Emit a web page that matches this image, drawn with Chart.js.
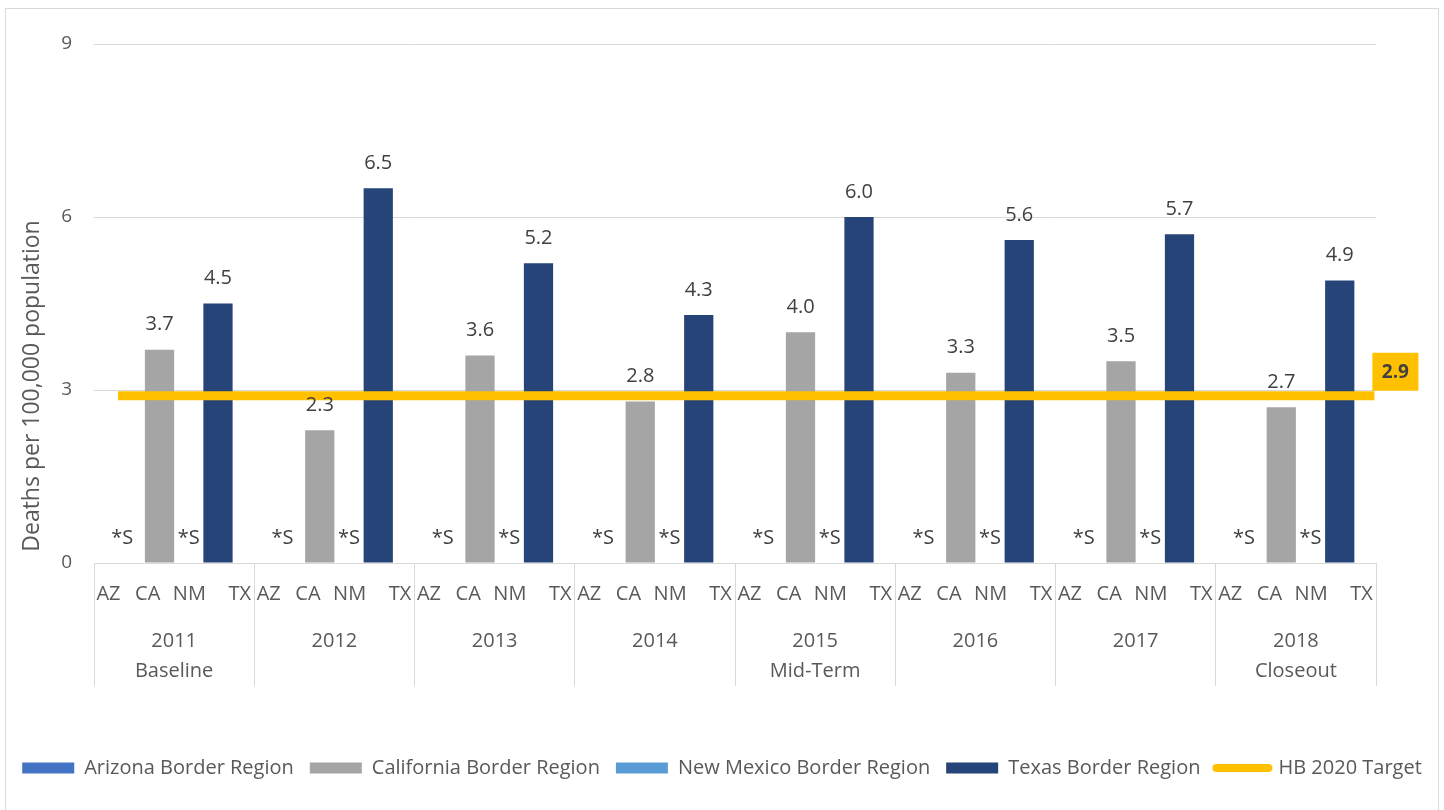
<!DOCTYPE html>
<html>
<head>
<meta charset="utf-8">
<script src="https://cdn.jsdelivr.net/npm/chart.js@4.4.1/dist/chart.umd.min.js"></script>
<style>
  html, body { margin: 0; padding: 0; background: #ffffff; }
  #wrap { width: 1444px; height: 810px; }
</style>
</head>
<body>
<div id="wrap"><canvas id="chart" width="1444" height="810"></canvas></div>
<script>
// ===== chart data =====
const years = ['2011', '2012', '2013', '2014', '2015', '2016', '2017', '2018'];
const milestones = ['Baseline', '', '', '', 'Mid-Term', '', '', 'Closeout'];
const states = ['AZ', 'CA', 'NM', 'TX'];

const azRates = [0, 0, 0, 0, 0, 0, 0, 0];
const caRates = [3.7, 2.3, 3.6, 2.8, 4.0, 3.3, 3.5, 2.7];
const nmRates = [0, 0, 0, 0, 0, 0, 0, 0];
const txRates = [4.5, 6.5, 5.2, 4.3, 6.0, 5.6, 5.7, 4.9];

// suppressed counts are shown as "*S"
const azSuppressed = [true, true, true, true, true, true, true, true];
const caSuppressed = [false, false, false, false, false, false, false, false];
const nmSuppressed = [true, true, true, true, true, true, true, true];
const txSuppressed = [false, false, false, false, false, false, false, false];

const targetRate = 2.9;
const targetSpan = [-0.35, 7.49];   // in year-index units
const yTicks = [0, 3, 6, 9];
const yTitle = 'Deaths per 100,000 population';

const TEXT = '#595959';
const GRID = '#d9d9d9';
Chart.defaults.font.family = "'Open Sans', 'DejaVu Sans', sans-serif";

// bars sit on a linear x axis: one unit per year, index i
const toPoints = arr => arr.map((v, i) => ({ x: i, y: v }));

/**
 * Frame, white background, y title
 */
const framePlugin = {
  id: 'frame',
  beforeDraw(chart) {
    const ctx = chart.ctx;
    ctx.save();
    ctx.fillStyle = '#ffffff';
    ctx.fillRect(0, 0, chart.width, chart.height);
    ctx.strokeStyle = GRID;
    ctx.lineWidth = 1;
    ctx.strokeRect(5.5, 8.5, 1433, 810);
    // y axis title
    ctx.translate(32, 386);
    ctx.rotate(-Math.PI / 2);
    ctx.fillStyle = TEXT;
    ctx.font = "23px 'Open Sans', sans-serif";
    ctx.textAlign = 'center';
    ctx.textBaseline = 'middle';
    ctx.fillText(yTitle, 0, 0);
    ctx.restore();
  }
};

/**
 * Value labels over bars + the target tag
 */
const labelPlugin = {
  id: 'barLabels',
  afterDatasetsDraw(chart) {
    const ctx = chart.ctx;
    ctx.save();
    ctx.textAlign = 'center';
    ctx.textBaseline = 'middle';
    chart.data.datasets.forEach((ds, di) => {
      const meta = chart.getDatasetMeta(di);
      if (ds.type === 'line') {
        const last = meta.data[meta.data.length - 1];
        if (!last) return;
        const bx = last.x - 2, by = last.y - 43, bw = 46, bh = 38;
        ctx.fillStyle = '#FFC000';
        ctx.fillRect(bx, by, bw, bh);
        ctx.fillStyle = '#404040';
        ctx.font = "bold 19px 'Open Sans', sans-serif";
        ctx.fillText(targetRate.toFixed(1), bx + bw / 2, by + bh / 2 + 1);
        return;
      }
      ctx.fillStyle = '#404040';
      ctx.font = "20px 'Open Sans', sans-serif";
      meta.data.forEach((el, i) => {
        const txt = ds.suppressed[i] ? '*S' : ds.data[i].y.toFixed(1);
        ctx.fillText(txt, el.x + (ds.labelShift || 0), el.y - 25);
      });
    });
    ctx.restore();
  }
};

/**
 * Multi-level category labels under the x axis
 */
const catPlugin = {
  id: 'catLabels',
  afterDraw(chart) {
    const xs = chart.scales.x;
    const ctx = chart.ctx;
    const groupW = xs.width / years.length;
    const stateFr = [0.09, 0.335, 0.595, 0.91];
    ctx.save();
    ctx.fillStyle = TEXT;
    ctx.textAlign = 'center';
    ctx.textBaseline = 'middle';
    ctx.font = "20px 'Open Sans', sans-serif";
    years.forEach((y, i) => {
      const c = xs.getPixelForValue(i);
      const left = c - groupW / 2;
      states.forEach((s, j) => ctx.fillText(s, left + stateFr[j] * groupW, xs.top + 31));
      ctx.fillText(y, c, xs.top + 78);
      if (milestones[i]) ctx.fillText(milestones[i], c, xs.top + 108);
    });
    ctx.restore();
  }
};

const barBase = { type: 'bar', categoryPercentage: 0.73, barPercentage: 1.0, order: 1, pointStyle: 'rect' };

new Chart(document.getElementById('chart'), {
  data: {
    datasets: [
      { ...barBase, label: 'Arizona Border Region', data: toPoints(azRates), suppressed: azSuppressed, labelShift: -8, backgroundColor: '#4472C4' },
      { ...barBase, label: 'California Border Region', data: toPoints(caRates), suppressed: caSuppressed, backgroundColor: '#A5A5A5' },
      { ...barBase, label: 'New Mexico Border Region', data: toPoints(nmRates), suppressed: nmSuppressed, backgroundColor: '#5B9BD5' },
      { ...barBase, label: 'Texas Border Region', data: toPoints(txRates), suppressed: txSuppressed, backgroundColor: '#264478' },
      {
        type: 'line', label: 'HB 2020 Target', order: 0,
        data: targetSpan.map(x => ({ x: x, y: targetRate })),
        borderColor: '#FFC000', backgroundColor: '#FFC000', borderWidth: 9,
        borderCapStyle: 'butt', pointRadius: 0, pointStyle: 'line'
      }
    ]
  },
  options: {
    responsive: false,
    animation: false,
    layout: { padding: { left: 6, right: 6, top: 44, bottom: 22 } },
    plugins: {
      tooltip: { enabled: false },
      legend: {
        position: 'bottom',
        labels: {
          usePointStyle: true, pointStyleWidth: 52, boxHeight: 11,
          padding: 16, color: TEXT,
          font: { size: 20 },
          sort: (a, b) => a.datasetIndex - b.datasetIndex,
          generateLabels(chart) {
            const items = Chart.defaults.plugins.legend.labels.generateLabels(chart);
            items.forEach(it => {
              if (it.pointStyle === 'line') { it.lineWidth = 8; it.lineCap = 'round'; }
              else { it.lineWidth = 0; }
            });
            return items;
          }
        }
      }
    },
    scales: {
      x: {
        type: 'linear',
        offset: false,
        min: -0.5, max: 7.5,
        afterBuildTicks(scale) { scale.ticks = years.concat(['']).map((_, i) => ({ value: i - 0.5 })); },
        grid: { offset: false, drawOnChartArea: false, drawTicks: true, tickLength: 123, color: GRID },
        border: { display: true, color: GRID },
        ticks: { display: false, autoSkip: false },
        afterFit(scale) { scale.height = 179; }
      },
      y: {
        min: 0, max: 9,
        afterBuildTicks(scale) { scale.ticks = yTicks.map(v => ({ value: v })); },
        grid: { color: GRID, drawTicks: false },
        border: { display: false },
        ticks: { padding: 22, color: TEXT, font: { size: 19 } },
        afterFit(scale) { scale.width = 88; }
      },
      yr: {
        position: 'right', display: true,
        grid: { display: false }, border: { display: false }, ticks: { display: false },
        afterFit(scale) { scale.width = 62; }
      }
    }
  },
  plugins: [framePlugin, labelPlugin, catPlugin]
});
</script>
</body>
</html>
